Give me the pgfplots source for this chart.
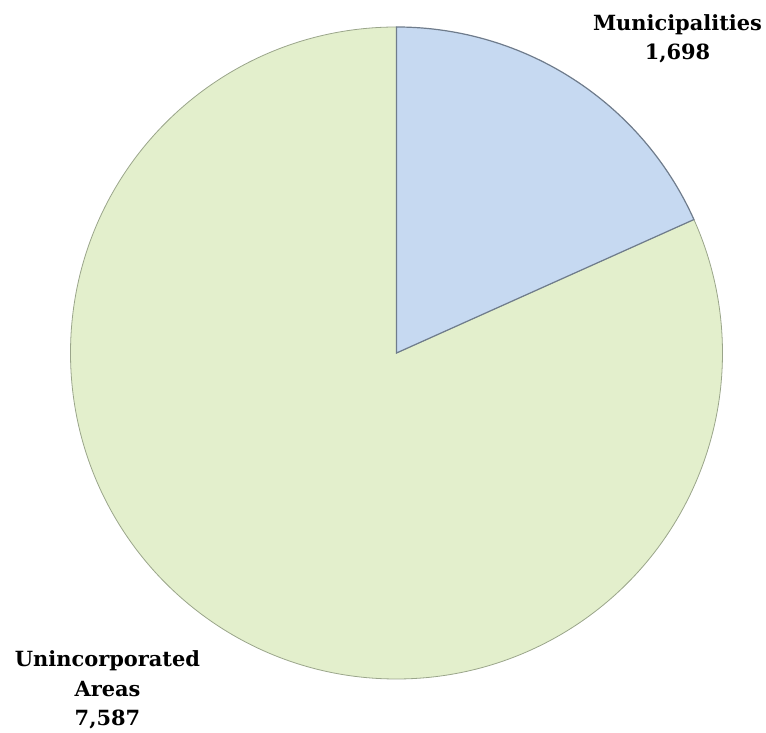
\documentclass[border=0pt]{standalone}
\usepackage{pgfplots}
\pgfplotsset{compat=1.18}
\usepackage{fontspec}
\setmainfont{DejaVu Serif}
\definecolor{muniblue}{HTML}{C6D9F1}
\definecolor{unigreen}{HTML}{E3EFCC}
\definecolor{edgegray}{HTML}{9AA58A}
\definecolor{edgeblue}{HTML}{6F7C8C}
\begin{document}
\begin{tikzpicture}
\pgfmathsetmacro{\vA}{1698}% Municipalities
\pgfmathsetmacro{\vB}{7587}% Unincorporated Areas
\pgfmathsetmacro{\frA}{\vA/(\vA+\vB)}
\pgfmathsetmacro{\angA}{360*\frA}
\pgfmathsetmacro{\endA}{90-\angA}
\pgfmathsetmacro{\endB}{450-\angA}
\begin{axis}[width=766bp,height=733bp,scale only axis,
  xmin=0,xmax=766,ymin=0,ymax=733,hide axis,clip=false]
\path (axis cs:0,0) rectangle (axis cs:766,733);
\fill[unigreen,draw=edgegray,line width=0.8bp] (axis cs:396.5,380) -- ++(90:326bp)
   arc[start angle=90,end angle=\endB,radius=326bp] -- cycle;
\fill[muniblue,draw=edgeblue,line width=1.2bp] (axis cs:396.5,380) -- ++(90:326bp)
   arc[start angle=90,end angle=\endA,radius=326bp] -- cycle;
\begin{scope}[every node/.style={font=\bfseries\fontsize{21}{26}\selectfont,anchor=base,inner sep=0pt}]
\node at (axis cs:677.5,702) {Municipalities};
\node at (axis cs:677.5,673) {1,698};
\node at (axis cs:107.5,66) {Unincorporated};
\node at (axis cs:107.5,36) {Areas};
\node at (axis cs:107.5,8) {7,587};
\end{scope}
\end{axis}
\end{tikzpicture}
\end{document}
